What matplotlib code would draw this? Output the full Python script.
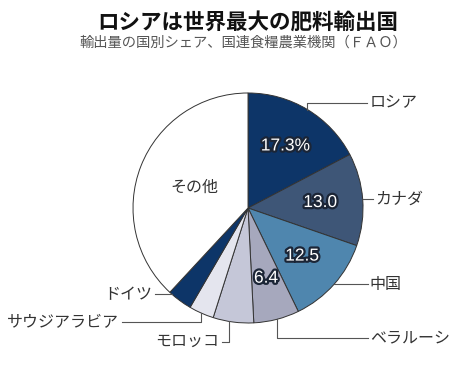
import matplotlib
matplotlib.use("Agg")
import matplotlib.pyplot as plt
import matplotlib.patheffects as pe
import numpy as np

plt.rcParams['font.family'] = ['Noto Sans CJK JP', 'DejaVu Sans']

# data (FAO, share of fertilizer exports, %)
countries = ['ロシア', 'カナダ', '中国', 'ベラルーシ', 'モロッコ', 'サウジアラビア', 'ドイツ', 'その他']
shares = [17.3, 13.0, 12.5, 6.4, 5.7, 3.5, 3.5, 38.1]
value_labels = ['17.3%', '13.0', '12.5', '6.4', '', '', '', '']
colors = ['#0d3568', '#3e5677', '#4f86ae', '#a6a8bd', '#c5c7d8', '#e4e5ee', '#0d3568', '#ffffff']

# leader line routes: (position inside wedge, steps, text side)
routes = {
    'ロシア': (0.5, [('v', 0.913), ('h', 1.035)], 'left'),
    'カナダ': (0.5, [('h', 1.087)], 'left'),
    '中国': (0.5, [('h', 1.04)], 'left'),
    'ベラルーシ': (0.5, [('v', -1.13), ('h', 1.04)], 'left'),
    'モロッコ': (0.6, [('v', -1.163), ('h', -0.229)], 'right'),
    'サウジアラビア': (0.5, [('v', -0.99), ('h', -1.10)], 'right'),
    'ドイツ': (0.88, [('h', -0.81)], 'right'),
}


def main():
    fig = plt.figure(figsize=(4.61, 3.68), dpi=100)
    ax = fig.add_axes([0.2885, 0.1223, 0.499, 0.625])
    wedges, _ = ax.pie(shares, colors=colors, startangle=90, counterclock=False,
                       radius=1.0,
                       wedgeprops=dict(edgecolor='#333333', linewidth=0.7))
    ax.set_xlim(-1, 1)
    ax.set_ylim(-1, 1)
    ax.set_aspect('equal')
    ax.axis('off')

    for w, name, val in zip(wedges, countries, value_labels):
        t1, t2 = w.theta1, w.theta2
        mid = np.deg2rad((t1 + t2) / 2)
        if val:
            ax.text(0.63 * np.cos(mid), 0.63 * np.sin(mid), val,
                    ha='center', va='center', fontsize=12.5,
                    family='Liberation Sans', color='white',
                    path_effects=[pe.withStroke(linewidth=3.2, foreground='#1b2536')])
        if name == 'その他':
            ax.text(0.5 * np.cos(mid), 0.5 * np.sin(mid), name,
                    ha='center', va='center', fontsize=11.5, color='#333333')
            continue
        frac, steps, side = routes[name]
        ang = np.deg2rad(t2 - frac * (t2 - t1))
        x, y = np.cos(ang), np.sin(ang)
        xs, ys = [x], [y]
        for kind, v in steps:
            if kind == 'v':
                y = v
            else:
                x = v
            xs.append(x)
            ys.append(y)
        ax.plot(xs, ys, color='#555555', linewidth=0.8, clip_on=False)
        dx = 0.02 if side == 'left' else -0.02
        ax.text(x + dx, y, name, ha=side, va='center', fontsize=11.5,
                color='#333333', clip_on=False)

    fig.text(0.538, 0.940, 'ロシアは世界最大の肥料輸出国', ha='center', va='center',
             fontsize=15.5, weight='bold', color='#111111')
    fig.text(0.528, 0.883, '輸出量の国別シェア、国連食糧農業機関（ＦＡＯ）', ha='center',
             va='center', fontsize=10.3, color='#555555')

    fig.savefig('out.png', dpi=100, facecolor='white')


if __name__ == '__main__':
    main()
